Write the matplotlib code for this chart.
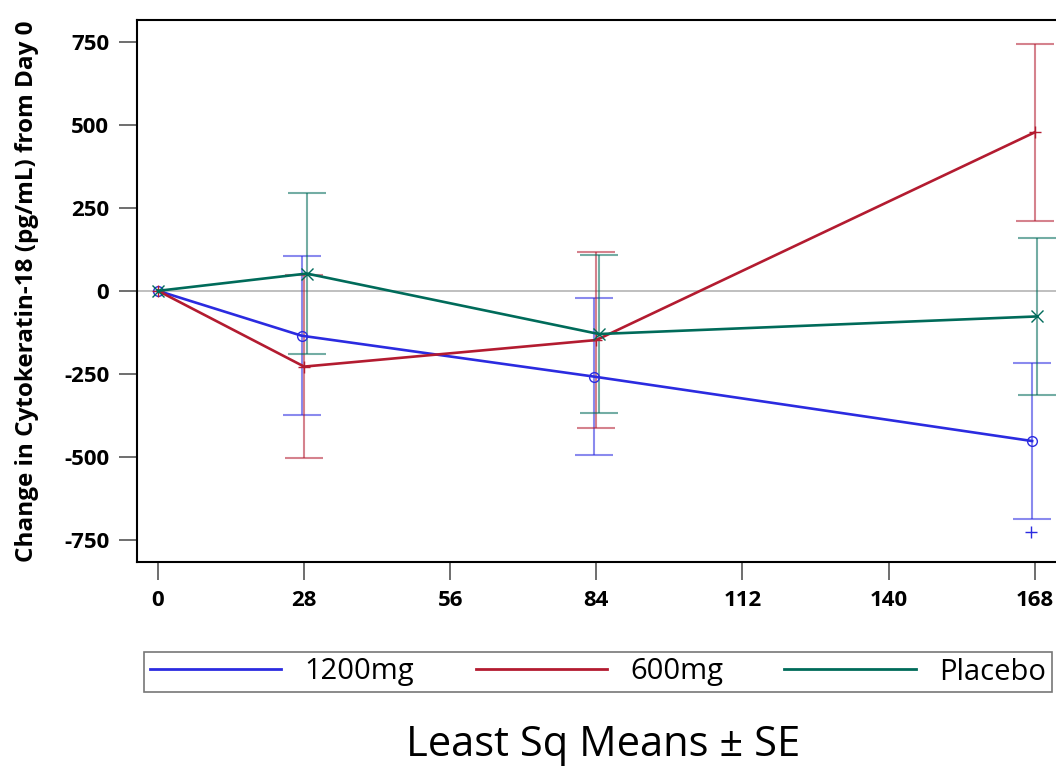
import numpy as np
import matplotlib.pyplot as plt
from matplotlib.lines import Line2D

plt.rcParams['font.family'] = ['Open Sans', 'DejaVu Sans']
plt.rcParams['axes.unicode_minus'] = False

days = [0, 28, 84, 168]
tick_days = [0, 28, 56, 84, 112, 140, 168]
yticks = [-750, -500, -250, 0, 250, 500, 750]

# least sq means and SE per group
m_1200 = [0, -135, -258, -452]
se_1200 = [0, 240, 236, 236]
m_600 = [0, -228, -148, 477]
se_600 = [0, 275, 266, 267]
m_plac = [0, 52, -130, -77]
se_plac = [0, 243, 237, 236]
outlier_day = [167.3]
outlier_val = [-725]

BLUE = "#2b2be0"
RED = "#b31b30"
GREEN = "#006b5a"

fig = plt.figure(figsize=(10.56, 7.68), dpi=100)
ax = fig.add_axes([137/1056, 1 - 562/768, 1 - 137/1056 + 0.01, (562 - 20)/768])

ax.axhline(0, color="#b4b4b4", lw=1.2, zorder=1)

groups = [
    (m_1200, se_1200, BLUE, "o", -0.5, "1200mg", 7),
    (m_600, se_600, RED, "+", 0.0, "600mg", 9),
    (m_plac, se_plac, GREEN, "x", 0.5, "Placebo", 8),
]
for m, se, c, mk, off, lab, ms in groups:
    x = np.array(days) + off
    x[0] = 0
    ax.errorbar(x[1:], m[1:], yerr=se[1:], fmt="none", ecolor=c, alpha=0.55,
                elinewidth=1.5, capsize=14, capthick=1.5, zorder=2)
    ax.plot(x, m, color=c, lw=1.9, marker=mk, ms=ms, mfc="none", mew=1.0,
            zorder=3, label=lab)

ax.plot(outlier_day, outlier_val, ls="none", marker="+", color=BLUE, ms=8, mew=1.0)

ax.set_xlim(-4.03, 174.1)
ax.set_ylim(-816, 815)
ax.set_xticks(tick_days)
ax.set_yticks(yticks)
ax.tick_params(axis="both", length=13, width=1.2, color="#555555", labelsize=16)
ax.tick_params(axis="x", pad=7)
ax.tick_params(axis="y", pad=7)
for t in ax.get_xticklabels() + ax.get_yticklabels():
    t.set_fontweight("bold")
ax.spines["right"].set_visible(False)
for s in ["left", "top", "bottom"]:
    ax.spines[s].set_linewidth(1.5)
ax.set_ylabel("Change in Cytokeratin-18 (pg/mL) from Day 0", fontsize=17.5,
              fontweight="bold", va="center")
ax.yaxis.set_label_coords(-126/1066, 0.5)

handles = [Line2D([0], [0], color=c, lw=2) for _, _, c, _, _, _, _ in groups]
labels = [g[5] for g in groups]
leg = fig.legend(handles, labels, loc="center", ncol=3,
                 bbox_to_anchor=(598/1056, 1 - 672/768), fontsize=21,
                 frameon=True, fancybox=False, edgecolor="#555555",
                 handlelength=4.5, columnspacing=2.1, handletextpad=0.8,
                 borderpad=0.2)
leg.get_frame().set_linewidth(1.2)

fig.text(603/1056, 1 - 745/768, "Least Sq Means ± SE", ha="center", va="center",
         fontsize=30)

fig.savefig("out.png", dpi=100)
